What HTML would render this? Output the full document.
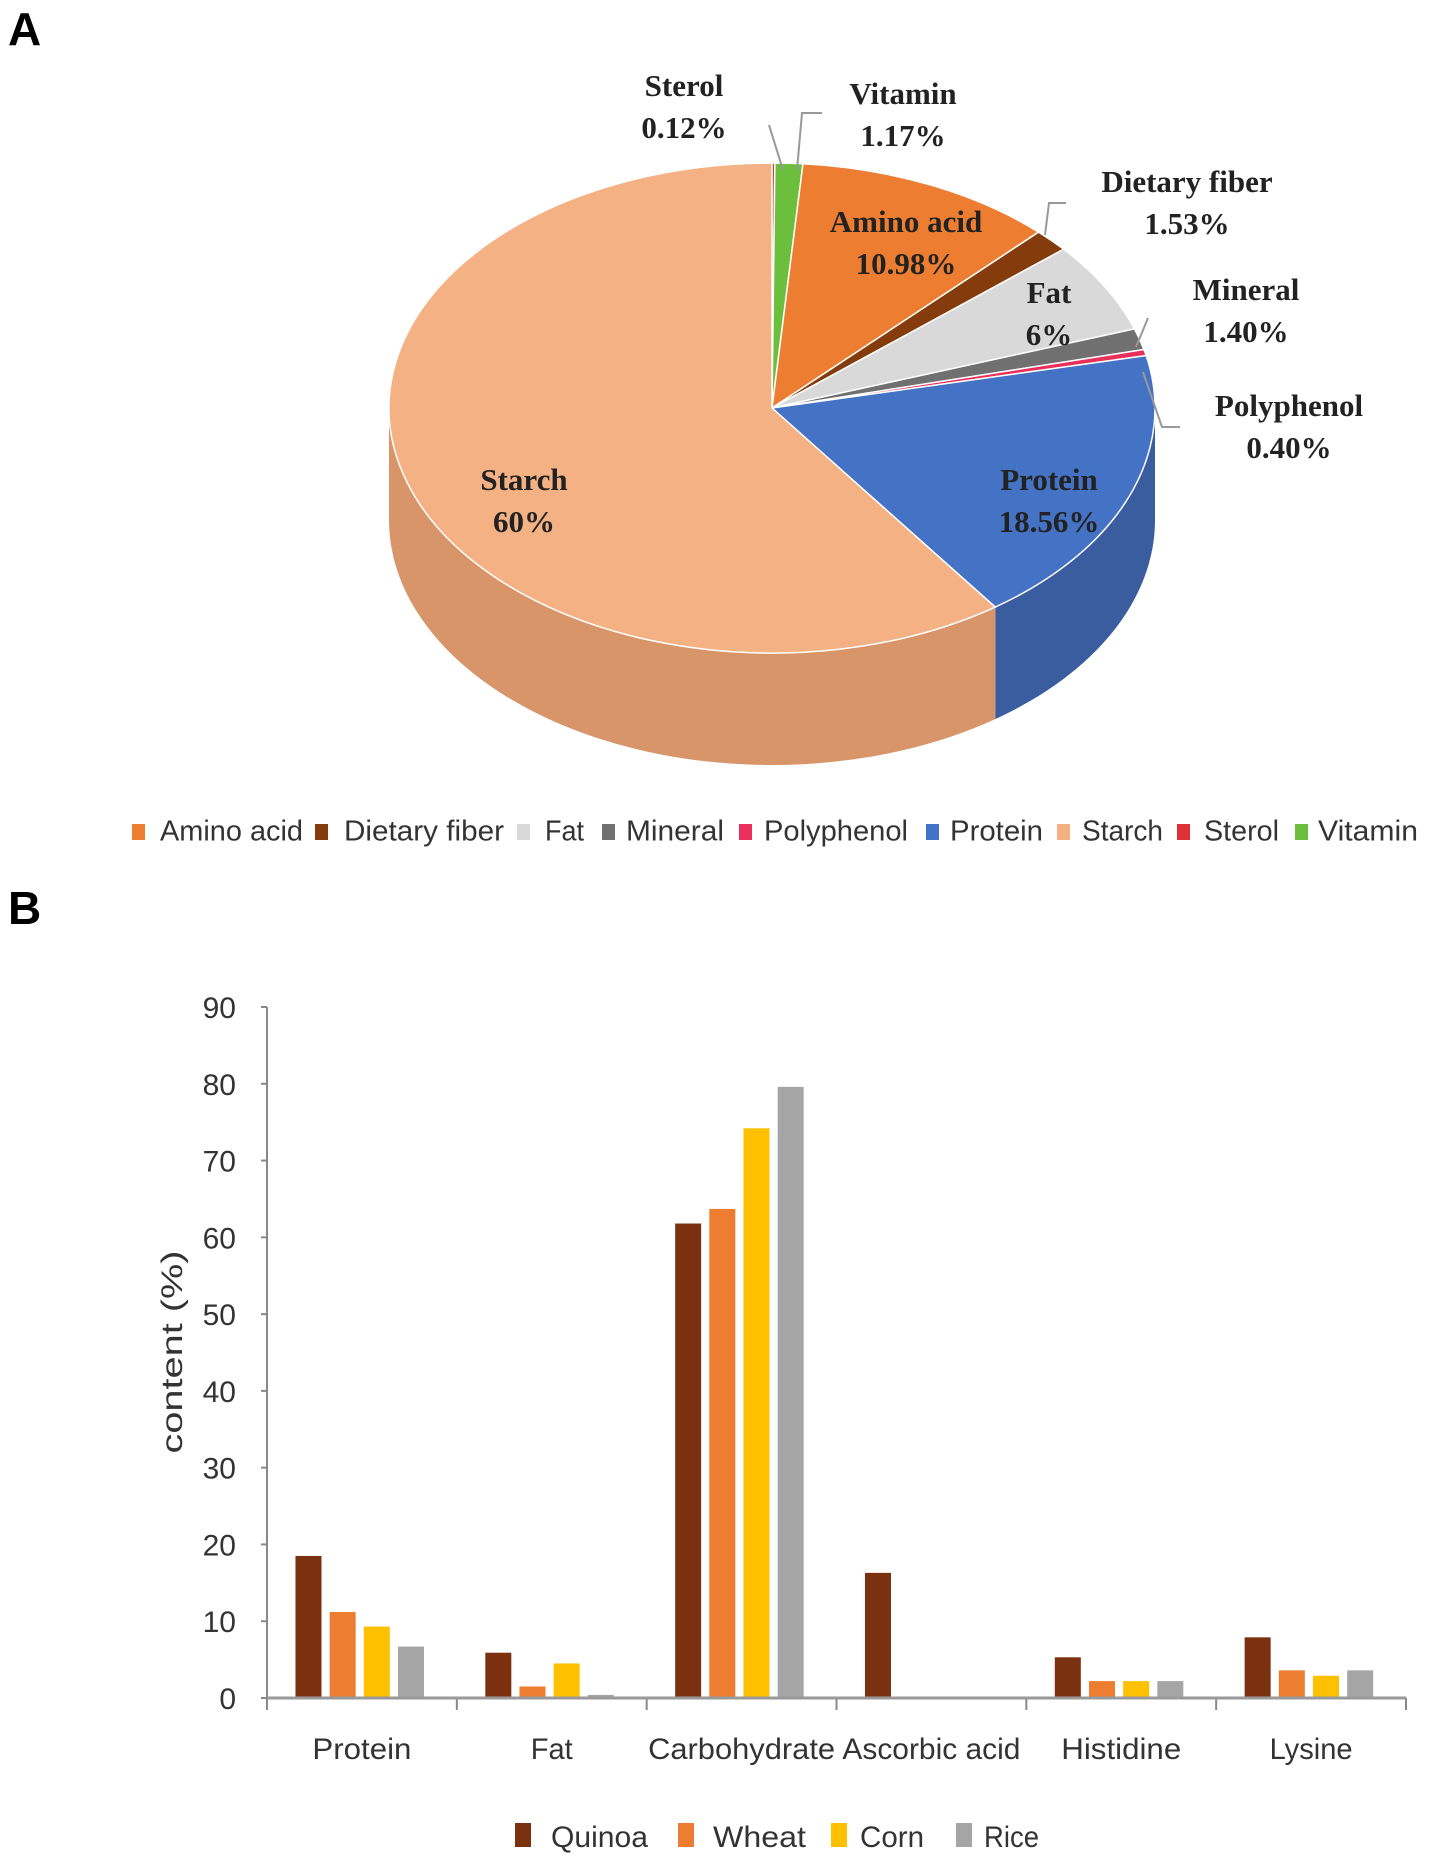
<!DOCTYPE html>
<html><head><meta charset="utf-8">
<style>
html,body{margin:0;padding:0;background:#fff;}
body{width:1430px;height:1873px;overflow:hidden;position:relative;}
svg{position:absolute;left:0;top:0;}
.lbl{font-family:"Liberation Serif",serif;font-weight:bold;font-size:31px;fill:#222;text-anchor:middle;dominant-baseline:middle;}
.leg{font-family:"Liberation Sans",sans-serif;font-size:29px;fill:#333;dominant-baseline:middle;}
.tick{font-family:"Liberation Sans",sans-serif;font-size:30px;fill:#333;}
</style></head>
<body>
<svg id="chart" width="1430" height="1873" viewBox="0 0 1430 1873">
<text x="8" y="45" font-family="Liberation Sans,sans-serif" font-weight="bold" font-size="46">A</text>
<text x="8" y="924" font-family="Liberation Sans,sans-serif" font-weight="bold" font-size="46">B</text>
<g id="pie"></g>
<g id="bars"></g>
</svg>
<script>
const pieCategories=["Sterol","Vitamin","Amino acid","Dietary fiber","Fat","Mineral","Polyphenol","Protein","Starch"];
const pieValues=[0.12,1.17,10.98,1.53,6,1.40,0.40,18.56,60];
const pieLabels=["0.12%","1.17%","10.98%","1.53%","6%","1.40%","0.40%","18.56%","60%"];
const pieColors=["#e0303a","#6cbf3c","#ed7d31","#843c0c","#d9d9d9","#707070","#e8305a","#4472c4","#f4b183"];
const pieSide=["#b02028","#4c9a2a","#b85a1c","#5c2808","#a8a8a8","#505050","#b02040","#3a5da0","#d8956a"];
const legendOrder=["Amino acid","Dietary fiber","Fat","Mineral","Polyphenol","Protein","Starch","Sterol","Vitamin"];

const barCategories=["Protein","Fat","Carbohydrate","Ascorbic acid","Histidine","Lysine"];
const seriesNames=["Quinoa","Wheat","Corn","Rice"];
const quinoa=[18.5,5.9,61.8,16.3,5.3,7.9];
const wheat=[11.2,1.5,63.7,0,2.2,3.6];
const corn=[9.3,4.5,74.2,0,2.2,2.9];
const rice=[6.7,0.4,79.6,0,2.2,3.6];
const yTicks=[0,10,20,30,40,50,60,70,80,90];
const seriesColors=["#7b3010","#ed7d31","#ffc000","#a5a5a5"];

const NS="http://www.w3.org/2000/svg";
function mk(tag,attrs,parent){const e=document.createElementNS(NS,tag);for(const k in attrs)e.setAttribute(k,attrs[k]);parent.appendChild(e);return e;}

// PIE
const pie=document.getElementById('pie');
const cx=772,cy=408,rx=383,ry=245,depth=112;
const total=pieValues.reduce((a,b)=>a+b,0);
function pt(th,dy){return [cx+rx*Math.sin(th),cy-ry*Math.cos(th)+(dy||0)];}
let acc=0;const angles=[];
pieValues.forEach(v=>{const a0=acc/total*2*Math.PI;acc+=v;angles.push([a0,acc/total*2*Math.PI]);});
const sideG=mk('g',{},pie);


angles.forEach(([a0,a1],i)=>{
  const s=Math.max(a0,Math.PI/2),e=Math.min(a1,3*Math.PI/2);
  if(e<=s)return;
  const p0=pt(s),p1=pt(e),p2=pt(e,depth),p3=pt(s,depth);
  const p=mk('path',{d:`M${p0} A${rx} ${ry} 0 0 1 ${p1} L${p2} A${rx} ${ry} 0 0 0 ${p3} Z`,fill:pieSide[i]},sideG);
  
  
});
angles.forEach(([a0,a1],i)=>{
  const p0=pt(a0),p1=pt(a1);const large=(a1-a0)>Math.PI?1:0;
  const p=mk('path',{d:`M${cx},${cy} L${p0} A${rx} ${ry} 0 ${large} 1 ${p1} Z`,fill:pieColors[i],stroke:'#fff','stroke-width':1.5},pie);
  
  
});
const leaders=[[[769,125],[783,170]],[[822,113],[802,113],[797,170]],[[1066,203],[1049,203],[1045,235]],[[1148,318],[1136,347]],[[1180,427],[1162,427],[1143,372]]];
leaders.forEach(l=>{const ln=mk('polyline',{points:l.join(' '),fill:'none',stroke:'#999','stroke-width':2},pie);
 });
const labelPos={"Sterol":[684,89],"Vitamin":[903,97],"Amino acid":[906,225],"Dietary fiber":[1187,185],"Fat":[1049,296],"Mineral":[1246,293],"Polyphenol":[1289,409],"Protein":[1049,483],"Starch":[524,483]};
pieCategories.forEach((c,i)=>{const [x,y]=labelPos[c];
 const t=mk('text',{x:x,y:y,class:'lbl'},pie);t.textContent=c;
 
 const t2=mk('text',{x:x,y:y+42,class:'lbl'},pie);t2.textContent=pieLabels[i];
 });
const legX=[132,315,517,602,739,926,1057,1177,1295];
const legTX=[160,344,545,626,764,950,1082,1204,1318];
const legW=[143,160,39,98,144,93,81,75,100];
legendOrder.forEach((c,j)=>{const i=pieCategories.indexOf(c);
 const g=mk('g',{},pie);
 mk('rect',{x:legX[j],y:824,width:13,height:16,fill:pieColors[i]},g);
 const t=mk('text',{x:legTX[j],y:833,class:'leg',textLength:legW[j],lengthAdjust:'spacingAndGlyphs'},g);t.textContent=c;});

// BARS
const bars=document.getElementById('bars');
const x0=267,x1=1406,yBase=1698,yTop=1007,yMax=90;
const yS=v=>yBase-(v/yMax)*(yBase-yTop);
const gw=(x1-x0)/barCategories.length;
const ax=mk('line',{x1:x0,y1:yTop,x2:x0,y2:yBase,stroke:'#888','stroke-width':2},bars);

yTicks.forEach(v=>{mk('line',{x1:x0-6,y1:yS(v),x2:x0,y2:yS(v),stroke:'#888','stroke-width':2},bars);
 const t=mk('text',{x:236,y:yS(v)+11,class:'tick','text-anchor':'end'},bars);t.textContent=v;
 });
const yt=mk('text',{x:0,y:0,class:'tick','text-anchor':'middle',transform:'translate(182,1352) rotate(-90)','font-size':'34',textLength:203,lengthAdjust:'spacingAndGlyphs'},bars);
yt.textContent='content (%)';
const catW=[99,42,187,178,120,83];
const allSeries=[quinoa,wheat,corn,rice];
barCategories.forEach((c,ci)=>{const gx=x0+ci*gw;
 allSeries.forEach((s,si)=>{const v=s[ci];if(v<=0)return;
  const r=mk('rect',{x:gx+0.15*gw+si*0.18*gw,y:yS(v),width:0.137*gw,height:yBase-yS(v),fill:seriesColors[si]},bars);
  
  });
 const t=mk('text',{x:gx+gw/2,y:1759,class:'tick','text-anchor':'middle',textLength:catW[ci],lengthAdjust:'spacingAndGlyphs'},bars);t.textContent=c;
 });
for(let k=0;k<=barCategories.length;k++){mk('line',{x1:x0+k*gw,y1:yBase,x2:x0+k*gw,y2:yBase+12,stroke:'#888','stroke-width':2},bars);}
const xa=mk('line',{x1:x0,y1:yBase,x2:x1,y2:yBase,stroke:'#999','stroke-width':3},bars);

const bLegX=[515,678,831,956];
const bLegTX=[551,713,860,984];
const bLegW=[97,93,64,55];
seriesNames.forEach((n,i)=>{const g=mk('g',{},bars);
 
 mk('rect',{x:bLegX[i],y:1823,width:16,height:24,fill:seriesColors[i]},g);
 const t=mk('text',{x:bLegTX[i],y:1847,class:'tick',textLength:bLegW[i],lengthAdjust:'spacingAndGlyphs'},g);t.textContent=n;});
</script>
</body></html>
